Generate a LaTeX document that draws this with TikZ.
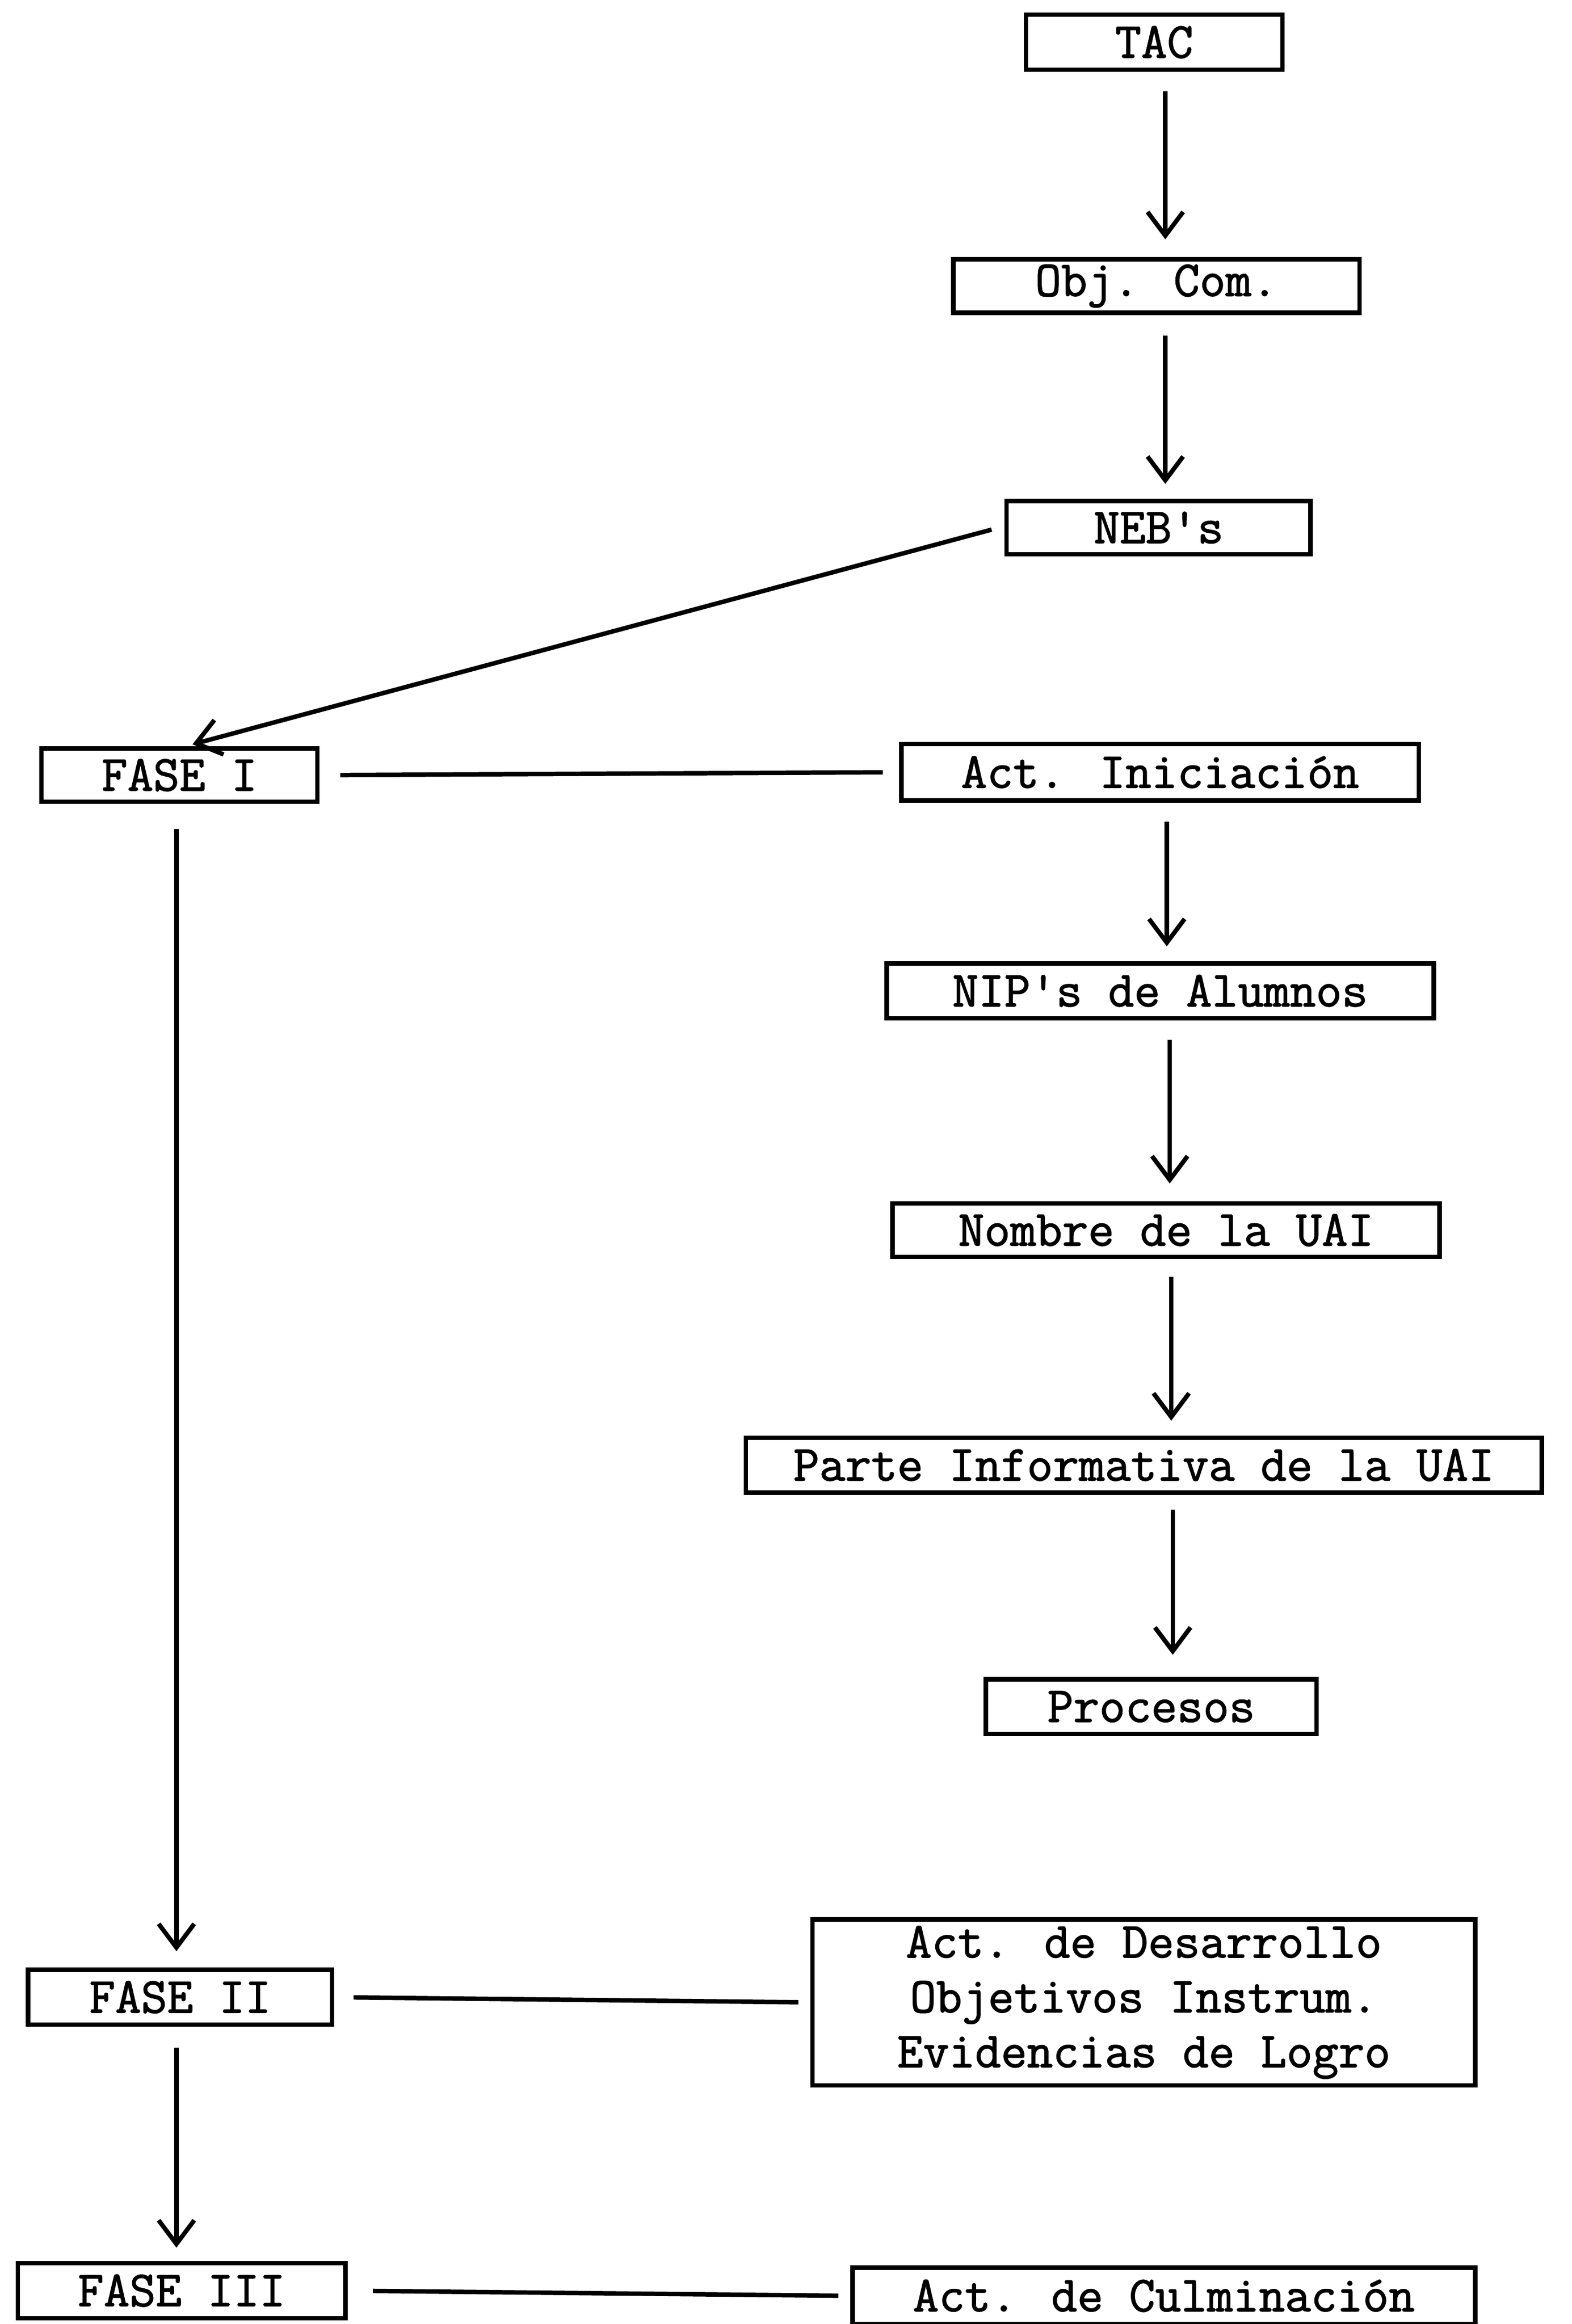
\documentclass[tikz,border=0pt]{standalone}
\usepackage{fontspec}
\newfontfamily\tw[FakeBold=1.6]{Latin Modern Mono}
\usetikzlibrary{arrows.meta}
\begin{document}
\begin{tikzpicture}[x=1pt,y=-1pt,
  bx/.style={draw,line width=3pt,inner sep=0pt,align=center,
    font=\tw\fontsize{34}{37}\selectfont},
  arr/.style={line width=3pt,-{Straight Barb[length=16pt,width=24pt,line width=3pt]}},
  ln/.style={line width=3pt}]
\useasboundingbox (0,0) rectangle (1060,1568);
\node[bx,minimum width=173pt,minimum height=37pt] (tac) at (778.5,28.5) {TAC};
\node[bx,minimum width=274pt,minimum height=36pt] (obj) at (780,193) {Obj. Com.};
\node[bx,minimum width=205pt,minimum height=36pt] (neb) at (781.5,356) {NEB's};
\node[bx,minimum width=186pt,minimum height=36pt] (f1) at (121,523) {FASE I};
\node[bx,minimum width=349pt,minimum height=38pt] (ini) at (782.5,521) {Act. Iniciación};
\node[bx,minimum width=369pt,minimum height=37pt] (nip) at (782.5,668.5) {NIP's de Alumnos};
\node[bx,minimum width=369pt,minimum height=36pt] (nom) at (786.5,830) {Nombre de la UAI};
\node[bx,minimum width=537pt,minimum height=37pt] (par) at (771.5,988.5) {Parte Informativa de la UAI};
\node[bx,minimum width=223pt,minimum height=37pt] (pro) at (776.5,1151.5) {Procesos};
\node[bx,minimum width=205pt,minimum height=37pt] (f2) at (121.5,1347.5) {FASE II};
\node[bx,minimum width=447pt,minimum height=112pt] (des) at (771.5,1351) {Act. de Desarrollo\\Objetivos Instrum.\\Evidencias de Logro};
\node[bx,minimum width=221pt,minimum height=37pt] (f3) at (122.5,1545.5) {FASE III};
\node[bx,minimum width=420pt,minimum height=38pt] (cul) at (785,1549) {Act. de Culminación};
\draw[arr,shorten <=13pt,shorten >=12pt] ([xshift=7.5pt]tac.south) -- ([xshift=6pt]obj.north);
\draw[arr,shorten <=14pt,shorten >=10pt] ([xshift=6pt]obj.south) -- ([xshift=4.5pt]neb.north);
\draw[arr,shorten <=9pt,shorten >=5pt] ([yshift=1pt]neb.west) -- ([xshift=4pt]f1.north);
\draw[ln,shorten <=14pt,shorten >=11pt] (f1.east) -- (ini.west);
\draw[arr,shorten <=13pt,shorten >=10pt] ([xshift=4.5pt]ini.south) -- ([xshift=4.5pt]nip.north);
\draw[arr,shorten <=13pt,shorten >=12pt] ([xshift=6.5pt]nip.south) -- ([xshift=2.5pt]nom.north);
\draw[arr,shorten <=12pt,shorten >=10pt] ([xshift=3.5pt]nom.south) -- ([xshift=18.5pt]par.north);
\draw[arr,shorten <=10pt,shorten >=15pt] ([xshift=19.5pt]par.south) -- ([xshift=14.5pt]pro.north);
\draw[arr,shorten <=17pt,shorten >=11pt] ([xshift=-2pt]f1.south) -- ([xshift=-2.5pt]f2.north);
\draw[ln,shorten <=13pt,shorten >=8pt] (f2.east) -- (des.west);
\draw[arr,shorten <=14pt,shorten >=9pt] ([xshift=-2.5pt]f2.south) -- ([xshift=-3.5pt]f3.north);
\draw[ln,shorten <=17pt,shorten >=8pt] (f3.east) -- (cul.west);
\end{tikzpicture}
\end{document}
